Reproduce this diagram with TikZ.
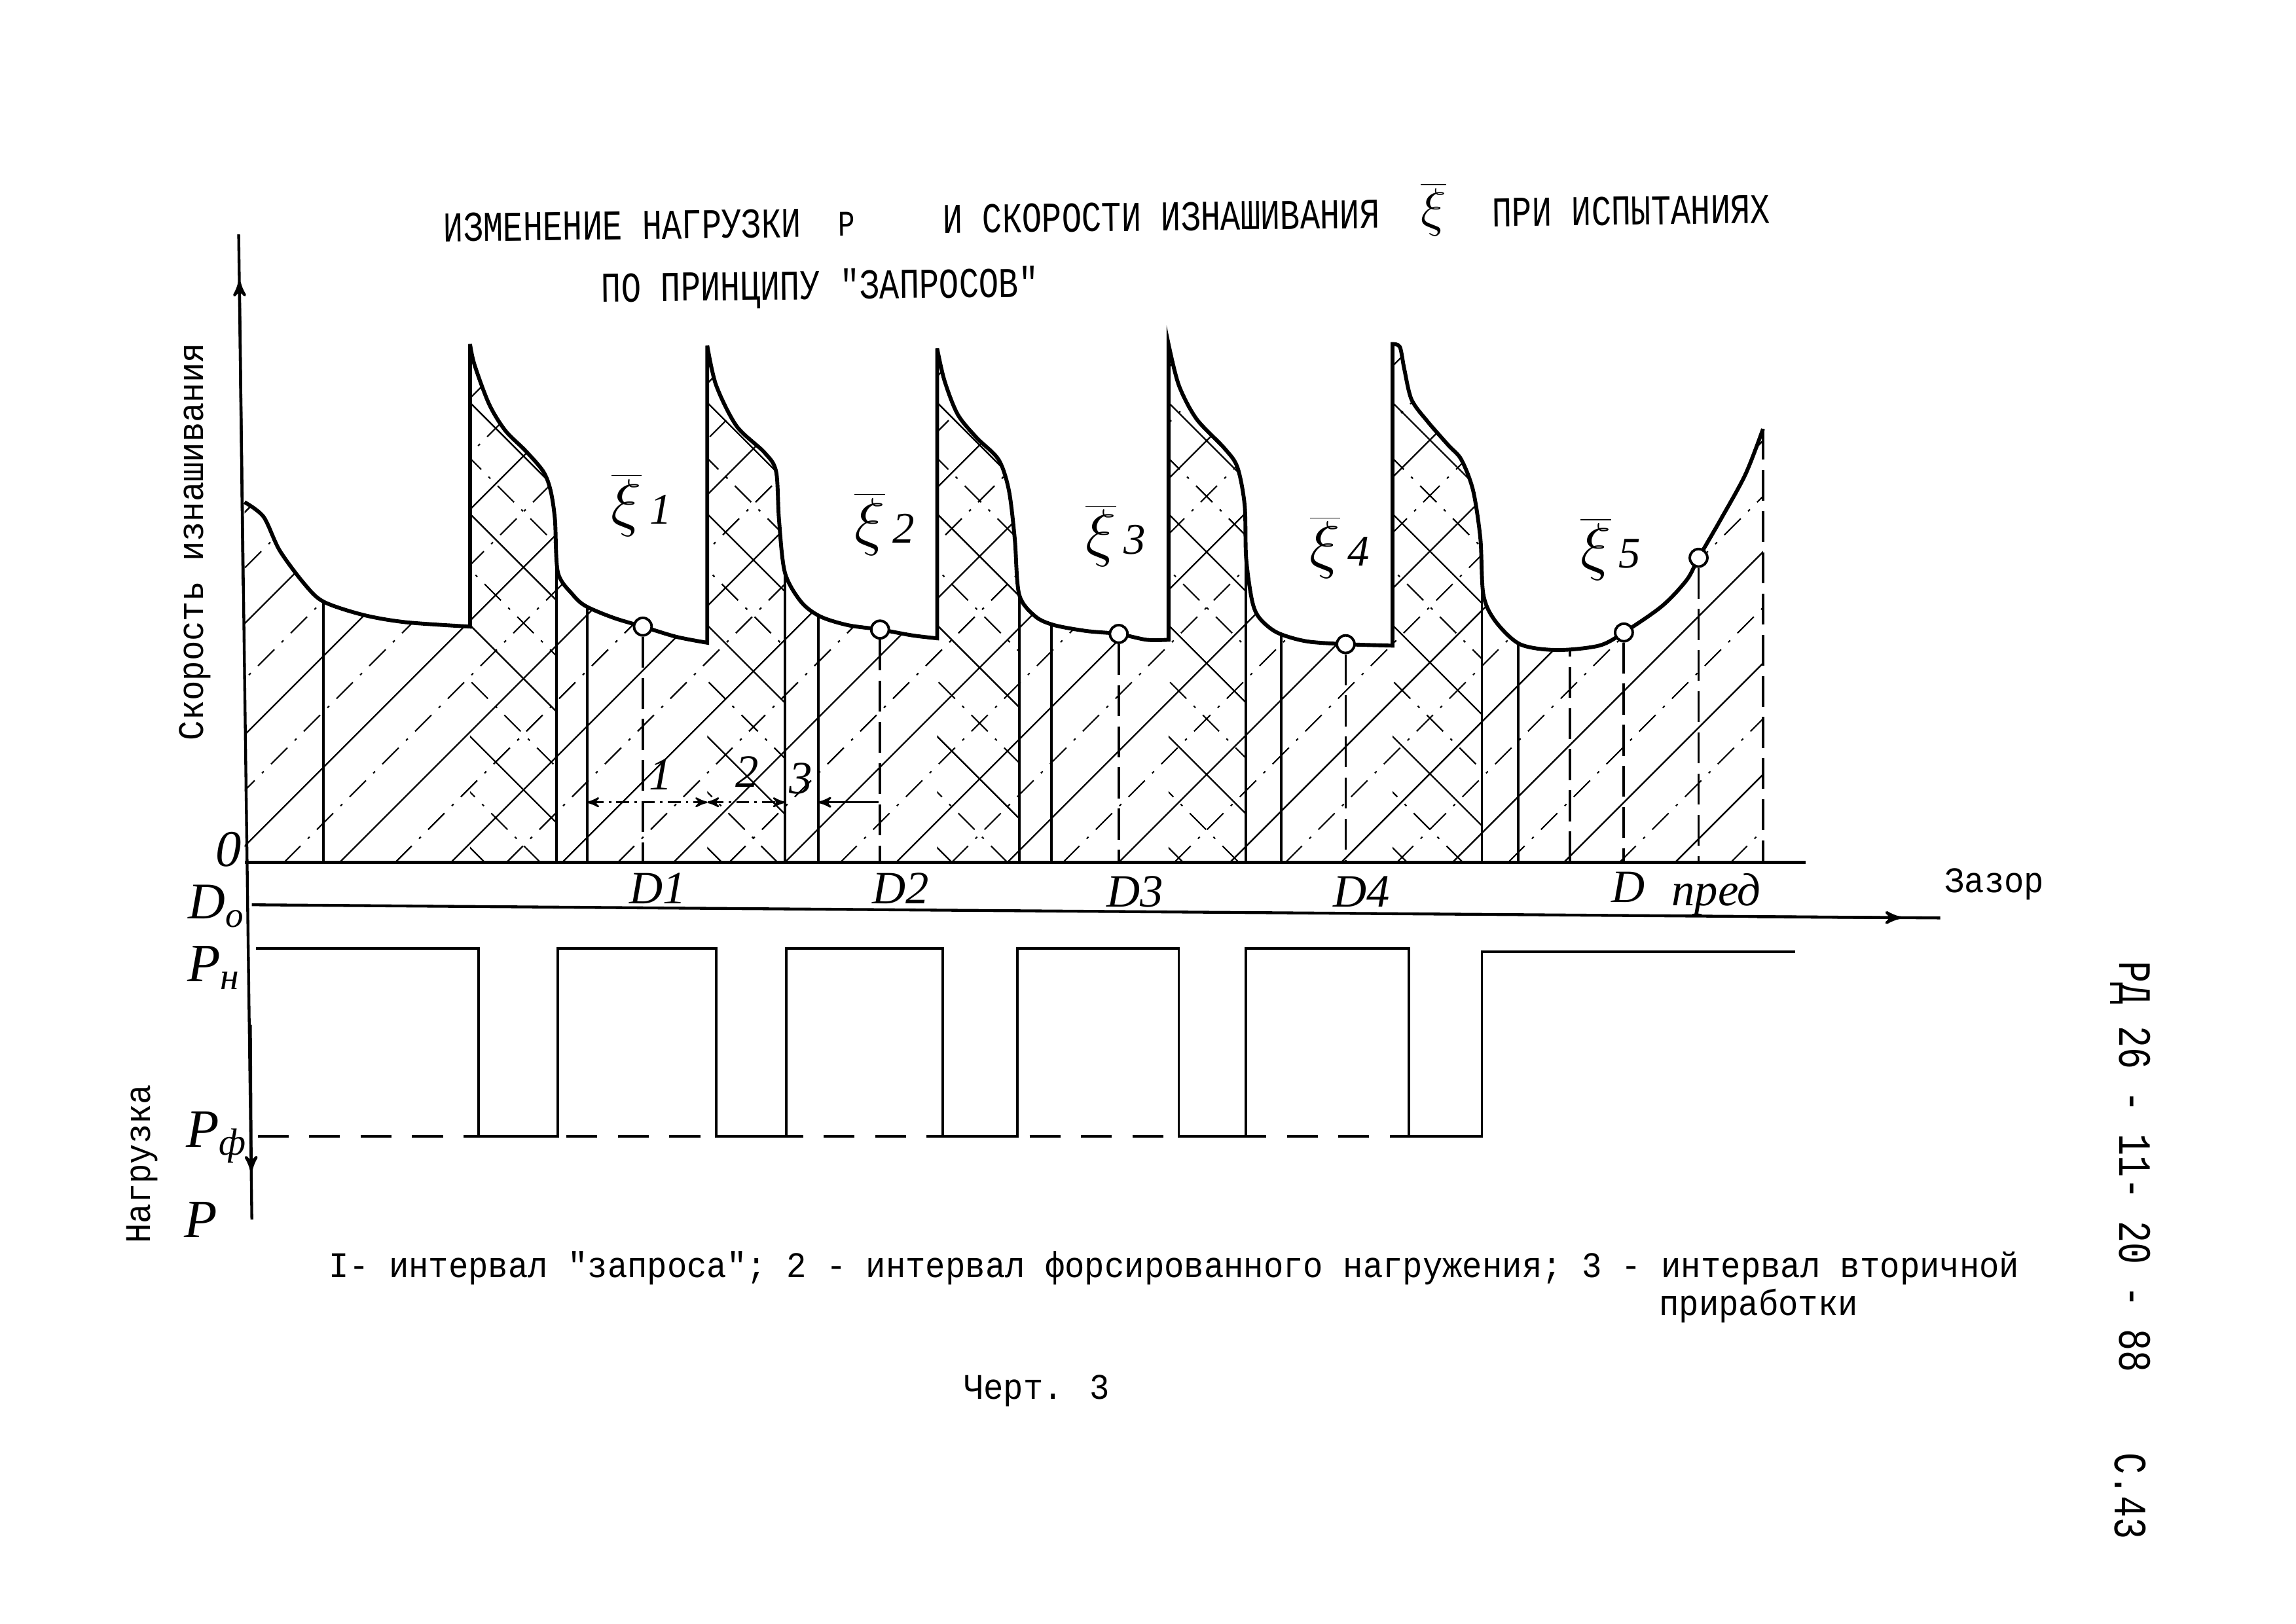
\documentclass[tikz,border=0pt]{standalone}
\usepackage{fontspec}
\usetikzlibrary{arrows}

\newfontfamily\twfont[FakeStretch=0.92]{Liberation Mono}
\newfontfamily\ttlfont[FakeStretch=0.78]{Liberation Mono}
\newfontfamily\handfont{Liberation Serif}

% upper edge of the wear rate area
\newcommand{\wearcurve}{plot[smooth] coordinates {(167,343) (180,353) (191,376) (208,399) (221,411) (248,420) (277,425) (321,428)}
  -- plot[smooth] coordinates {(321,235) (324,249) (334,276) (345,294) (359,308) (371,322) (376,335) (379,355) (381,391) (391,406) (400,414) (419,422) (439,428) (462,435) (483,439)}
  -- plot[smooth] coordinates {(483,236) (489,263) (503,291) (522,309) (530,322) (532,355) (536,391) (547,411) (560,421) (579,427) (601,430) (623,434) (640,436)}
  -- plot[smooth] coordinates {(640,238) (645,260) (654,283) (667,299) (682,314) (689,335) (693,368) (696,406) (707,421) (720,427) (742,431) (764,433) (783,437) (798,437)}
  -- plot[smooth] coordinates {(798,235) (805,263) (817,286) (836,306) (845,319) (850,345) (851,381) (855,410) (860,422) (872,432) (892,438) (919,440) (951,441)}
  -- plot[smooth] coordinates {(951,235) (956,237) (959,252) (964,273) (975,288) (989,304) (998,314) (1006,335) (1011,368) (1013,406) (1021,424) (1038,440) (1063,444) (1092,441) (1109,432) (1135,414) (1152,396) (1160,381) (1175,355) (1192,324) (1204,293)}}
\newcommand{\xilab}[1]{{\fontsize{25}{25}\selectfont$\overline{\xi}$}\,{\fontsize{17}{17}\selectfont #1}}

\begin{document}
\begin{tikzpicture}[x=0.02cm, y=-0.02cm, >=stealth',
    axis/.style={line width=1.1pt},
    curve/.style={line width=1.5pt},
    bound/.style={line width=1pt},
    dline/.style={line width=1pt, dash pattern=on 12pt off 4pt},
    dimline/.style={line width=0.7pt, dash pattern=on 5pt off 2pt on 1pt off 2pt},
    hline/.style={line width=0.6pt},
    hdash/.style={line width=0.55pt, dash pattern=on 9pt off 4pt on 1pt off 4pt},
    dot/.style={circle, draw, line width=1pt, fill=white, inner sep=0pt, minimum size=0.24cm},
    tw/.style={font=\twfont\fontsize{14}{16}\selectfont},
    ttl/.style={font=\ttlfont\fontsize{16.5}{18}\selectfont},
    hand/.style={font=\handfont\itshape\fontsize{18}{18}\selectfont, inner sep=1pt}]
    \useasboundingbox (0,0) rectangle (1568,1109);

    % Title
    \node [ttl, rotate=0.7] (t1) at (425,154) {ИЗМЕНЕНИЕ НАГРУЗКИ};
    \node [ttl, rotate=0.7, font=\ttlfont\fontsize{14}{14}\selectfont] (tP) at (578,153) {P};
    \node [ttl, rotate=0.7] (t2) at (793,148) {И СКОРОСТИ ИЗНАШИВАНИЯ};
    \node [font=\fontsize{20}{20}\selectfont] (tX) at (979,143) {$\overline{\xi}$};
    \node [ttl, rotate=0.7] (t3) at (1114,144) {ПРИ ИСПЫТАНИЯХ};
    \node [ttl, rotate=0.7] (t4) at (560,197) {ПО ПРИНЦИПУ "ЗАПРОСОВ"};

    % Hatched areas
    \begin{scope}
      \clip \wearcurve -- (1204,589) -- (167,589) -- cycle;
      \foreach \x in {-300,-224,...,1220} {
        \draw [hline] (\x,589) -- ++(440,-440);
        \draw [hdash] (\x+38,589) -- ++(440,-440);
      }
      \foreach \a/\b in {321/380,483/536,640/696,798/851,951/1012} {
        \begin{scope}
          \clip (\a,150) rectangle (\b,589);
          \foreach \x in {10,86,...,500}
            \draw [hline] (\a+\x,589) -- ++(-440,-440);
          \foreach \x in {48,124,...,500}
            \draw [hdash] (\a+\x,589) -- ++(-440,-440);
        \end{scope}
      }
      \foreach \x in {221,380,401,536,559,696,718,851,875,1012,1037}
        \draw [bound] (\x,589) -- (\x,200);
      \draw [dline] (1072,589) -- (1072,400);
    \end{scope}
    \draw [curve] \wearcurve;

    % Axes
    \coordinate (ytop) at (163,160);
    \coordinate (ybot) at (172,833);
    \coordinate (base) at (0,589);
    \draw [axis] (ytop) -- (ybot);
    \draw [axis,->] (166,400) -- (163.5,192);
    \draw [axis,->] (171,700) -- (171.6,800);
    \draw [axis] (167,589) -- (1233,589);
    \coordinate (dzero) at (172,618);
    \coordinate (dend) at (1325,627);
    \draw [axis] (dzero) -- (dend);
    \draw [axis,->] (1200,626.2) -- (1298,626.8);

    % Points D1 ... D4 and others
    \node [dot] (c1) at (439,428) {};
    \node [dot] (c2) at (601,430) {};
    \node [dot] (c3) at (764,433) {};
    \node [dot] (c4) at (919,440) {};
    \node [dot] (c5) at (1109,432) {};
    \node [dot] (c6) at (1160,381) {};
    \foreach \c in {c1,c2,c3,c4,c5,c6}
      \draw [dline] (\c.south) -- (\c.south |- base);
    \coordinate (tip) at (1204,293);
    \draw [dline] (tip) -- (tip |- base);

    % Intervals 1, 2, 3
    \coordinate (m1) at (401,548);
    \coordinate (m2) at (483,548);
    \coordinate (m3) at (536,548);
    \coordinate (m4) at (559,548);
    \coordinate (m5) at (600,548);
    \draw [dimline,<->] (m1) -- (m2);
    \draw [dimline,<->] (m2) -- (m3);
    \draw [line width=0.8pt,<-] (m4) -- (m5);
    \node [hand] (n1) at (451,529) {1};
    \node [hand] (n2) at (510,527) {2};
    \node [hand] (n3) at (547,532) {3};

    % Wear rate labels
    \node [hand] (x1) at (438,345) {\xilab{1}};
    \node [hand] (x2) at (604,358) {\xilab{2}};
    \node [hand] (x3) at (762,366) {\xilab{3}};
    \node [hand] (x4) at (915,374) {\xilab{4}};
    \node [hand] (x5) at (1100,375) {\xilab{5}};

    % Clearance labels
    \node [hand] (d1) at (449,607) {D1};
    \node [hand] (d2) at (615,607) {D2};
    \node [hand] (d3) at (775,609) {D3};
    \node [hand] (d4) at (930,609) {D4};
    \node [hand] (dp) at (1112,606) {D};
    \node [hand] (dpr) at (1172,611) {пред};

    % Load
    \draw [line width=1pt, dash pattern=on 12pt off 8pt] (176,776) -- (1012,776);
    \draw [line width=1pt] (175,648) -| (327,776) -| (381,648) -| (489,776) -| (537,648)
      -| (644,776) -| (695,648) -| (805,776) -| (851,648) -| (962,776) -| (1012,650) -- (1226,650);

    % Axis labels
    \node [hand, font=\handfont\itshape\fontsize{20}{20}\selectfont] (l0) at (156,580) {0};
    \node [hand, font=\handfont\itshape\fontsize{20}{20}\selectfont] (lD) at (148,619) {D\textsubscript{о}};
    \node [hand, font=\handfont\itshape\fontsize{21}{21}\selectfont] (lH) at (146,661) {P\textsubscript{н}};
    \node [hand, font=\handfont\itshape\fontsize{21}{21}\selectfont] (lF) at (148,777) {P\textsubscript{ф}};
    \node [hand, font=\handfont\itshape\fontsize{21}{21}\selectfont] (lP) at (137,833) {P};
    \node [tw, rotate=90] (ylab) at (133,370) {Скорость изнашивания};
    \node [tw, rotate=90] (plab) at (97,795) {Нагрузка};
    \node [tw] (gap) at (1362,604) {Зазор};

    % Caption
    \node [tw] (cap1) at (802,866) {I- интервал "запроса"; 2 - интервал форсированного нагружения; 3 - интервал вторичной};
    \node [tw] (cap2) at (1201,892) {приработки};
    \node [tw] (fig) at (708,950) {Черт. 3};
    \node [ttl, font=\ttlfont\fontsize{18}{18}\selectfont, rotate=-90] (code) at (1455,797) {РД 26 - 11- 20 - 88};
    \node [ttl, font=\ttlfont\fontsize{18}{18}\selectfont, rotate=-90] (page) at (1455,1022) {С.43};
\end{tikzpicture}
\end{document}
